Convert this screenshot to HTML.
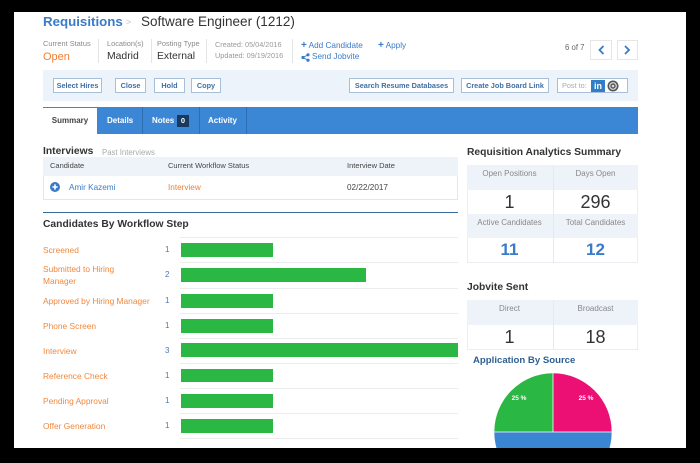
<!DOCTYPE html>
<html><head><meta charset="utf-8">
<style>
*{margin:0;padding:0;box-sizing:border-box}
html,body{width:700px;height:463px;overflow:hidden;background:#000;font-family:"Liberation Sans",sans-serif}
#pg{position:absolute;left:14px;top:12px;width:672px;height:436px;background:#fff;overflow:hidden}
.a{position:absolute}
.t{position:absolute;white-space:nowrap;height:20px;line-height:20px}
.btn{position:absolute;height:15px;border:1px solid #a9bfd8;background:#fff;color:#3f6fa6;font-size:7.3px;font-weight:bold;text-align:center;line-height:13px;white-space:nowrap}
.sep{position:absolute;width:1px;background:#e4e4e4}
.hl{position:absolute;height:1px;background:#ececec;left:180px;width:278px}
.bar{position:absolute;left:180.5px;height:13.5px;background:#2bb744}
.lbl{color:#f0883e;font-size:8.4px}
.cnt{color:#4a78b5;font-size:8px}
.th{color:#888;font-size:8px;text-align:center;width:85px}
</style></head><body>
<div id="pg"></div>
<!-- everything positioned relative to body -->
<!-- Header -->
<div class="t" style="left:43px;top:12px;font-size:13.3px;font-weight:bold;color:#3a7bc8">Requisitions</div>
<div class="t" style="left:126px;top:12px;font-size:9px;color:#c4c4c4">&gt;</div>
<div class="t" style="left:141px;top:12px;font-size:13.5px;color:#333">Software Engineer (1212)</div>

<div class="t" style="left:43px;top:34px;font-size:7.4px;color:#8a8a8a">Current Status</div>
<div class="t" style="left:43px;top:46.5px;font-size:11px;color:#f07f2d">Open</div>
<div class="sep" style="left:98px;top:39px;height:24px"></div>
<div class="t" style="left:107px;top:34px;font-size:7.4px;color:#8a8a8a">Location(s)</div>
<div class="t" style="left:107px;top:46.5px;font-size:10.4px;color:#333">Madrid</div>
<div class="sep" style="left:151px;top:39px;height:24px"></div>
<div class="t" style="left:157px;top:34px;font-size:7.4px;color:#8a8a8a">Posting Type</div>
<div class="t" style="left:157px;top:46.5px;font-size:10.4px;color:#333">External</div>
<div class="sep" style="left:206px;top:39px;height:24px"></div>
<div class="t" style="left:215px;top:35px;font-size:7.3px;color:#999">Created: 05/04/2016</div>
<div class="t" style="left:215px;top:46px;font-size:7.3px;color:#999">Updated: 09/19/2016</div>
<div class="sep" style="left:292px;top:39px;height:24px"></div>
<div class="t" style="left:301px;top:36px;font-size:8.2px;color:#3a7bc8"><b style="font-size:10px">+</b> Add Candidate</div>
<svg class="a" style="left:301px;top:53px" width="9" height="9" viewBox="0 0 9 9"><circle cx="7" cy="1.8" r="1.6" fill="#3a7bc8"/><circle cx="7" cy="7.2" r="1.6" fill="#3a7bc8"/><circle cx="2" cy="4.5" r="1.6" fill="#3a7bc8"/><path d="M7 1.8L2 4.5L7 7.2" stroke="#3a7bc8" stroke-width="0.9" fill="none"/></svg>
<div class="t" style="left:312px;top:47px;font-size:8.2px;color:#3a7bc8">Send Jobvite</div>
<div class="t" style="left:378px;top:36px;font-size:8.2px;color:#3a7bc8"><b style="font-size:10px">+</b> Apply</div>

<div class="t" style="left:565px;top:38px;font-size:7.8px;color:#666">6 of 7</div>
<div class="a" style="left:590px;top:40px;width:22px;height:20px;border:1px solid #e6e6e6"></div>
<div class="a" style="left:617px;top:40px;width:21px;height:20px;border:1px solid #e6e6e6"></div>
<svg class="a" style="left:590px;top:40px" width="48" height="20"><path d="M13.5 6L9.5 10L13.5 14" stroke="#3a7bc8" stroke-width="1.8" fill="none"/><path d="M35 6L39 10L35 14" stroke="#3a7bc8" stroke-width="1.8" fill="none"/></svg>

<!-- Toolbar -->
<div class="a" style="left:43px;top:70px;width:595px;height:31px;background:#edf3fa"></div>
<div class="btn" style="left:53px;top:78px;width:49px">Select Hires</div>
<div class="btn" style="left:115px;top:78px;width:31px">Close</div>
<div class="btn" style="left:154px;top:78px;width:31px">Hold</div>
<div class="btn" style="left:191px;top:78px;width:30px">Copy</div>
<div class="btn" style="left:349px;top:78px;width:105px">Search Resume Databases</div>
<div class="btn" style="left:461px;top:78px;width:88px">Create Job Board Link</div>
<div class="btn" style="left:557px;top:78px;width:71px;text-align:left;padding-left:4px;color:#aaa;font-weight:normal">Post to:</div>
<div class="a" style="left:591px;top:79.5px;width:14px;height:12px;background:#2f7ec6;color:#fff;font-size:9px;font-weight:bold;line-height:13px;text-align:center">in</div>
<svg class="a" style="left:607px;top:79.5px" width="12" height="12"><circle cx="6" cy="6" r="5.5" fill="#555"/><circle cx="6" cy="6" r="3.3" fill="none" stroke="#ddd" stroke-width="1.2"/><circle cx="6" cy="6" r="1.3" fill="#ddd"/></svg>

<!-- Tabs -->
<div class="a" style="left:43px;top:107px;width:595px;height:27px;background:#3b87d6"></div>
<div class="a" style="left:43px;top:107px;width:54px;height:27px;background:#fff;border-top:1px solid #3b87d6"></div>
<div class="t" style="left:43px;top:110.5px;width:54px;text-align:center;font-size:8px;font-weight:bold;color:#444">Summary</div>
<div class="t" style="left:107px;top:110.5px;font-size:8px;font-weight:bold;color:#fff">Details</div>
<div class="a" style="left:142px;top:107px;width:1px;height:27px;background:#2d6fb5"></div>
<div class="t" style="left:152px;top:110.5px;font-size:8px;font-weight:bold;color:#fff">Notes</div>
<div class="a" style="left:177px;top:114.5px;width:12px;height:12px;background:#173a5e;color:#fff;font-size:7.5px;font-weight:bold;text-align:center;line-height:12px">0</div>
<div class="a" style="left:199px;top:107px;width:1px;height:27px;background:#2d6fb5"></div>
<div class="t" style="left:208px;top:110.5px;font-size:8px;font-weight:bold;color:#fff">Activity</div>
<div class="a" style="left:246px;top:107px;width:1px;height:27px;background:#2d6fb5"></div>

<!-- Interviews -->
<div class="t" style="left:43px;top:142px;font-size:10.3px;font-weight:bold;color:#333">Interviews</div>
<div class="t" style="left:102px;top:142.5px;font-size:7.8px;color:#aaa">Past Interviews</div>
<div class="a" style="left:43px;top:157px;width:415px;height:43px;border:1px solid #e6e6e6"></div>
<div class="a" style="left:43px;top:157px;width:415px;height:19px;background:#eef3f9"></div>
<div class="t" style="left:50px;top:156px;font-size:7.5px;color:#444">Candidate</div>
<div class="t" style="left:168px;top:156px;font-size:7.5px;color:#444">Current Workflow Status</div>
<div class="t" style="left:347px;top:156px;font-size:7.5px;color:#444">Interview Date</div>
<svg class="a" style="left:50px;top:182px" width="10" height="10"><circle cx="5" cy="5" r="5" fill="#3a7bc8"/><path d="M5 2.4V7.6M2.4 5H7.6" stroke="#fff" stroke-width="1.6"/></svg>
<div class="t" style="left:69px;top:177.5px;font-size:8.2px;color:#3a7bc8">Amir Kazemi</div>
<div class="t" style="left:168px;top:177.5px;font-size:8.2px;color:#f07f2d">Interview</div>
<div class="t" style="left:347px;top:177.5px;font-size:8.2px;color:#444">02/22/2017</div>

<!-- Workflow -->
<div class="a" style="left:43px;top:211.5px;width:415px;height:1.5px;background:#3a6a9c"></div>
<div class="t" style="left:43px;top:215px;font-size:10.3px;font-weight:bold;color:#333">Candidates By Workflow Step</div>

<div class="hl" style="top:237px"></div>
<div class="hl" style="top:262px"></div>
<div class="hl" style="top:287.5px"></div>
<div class="hl" style="top:312.5px"></div>
<div class="hl" style="top:337.5px"></div>
<div class="hl" style="top:362.5px"></div>
<div class="hl" style="top:387.5px"></div>
<div class="hl" style="top:412.5px"></div>
<div class="hl" style="top:437.5px"></div>

<div class="t lbl" style="left:43px;top:240px">Screened</div>
<div class="t cnt" style="left:165px;top:240px">1</div>
<div class="bar" style="top:243px;width:92.5px"></div>

<div class="t lbl" style="left:43px;top:259px">Submitted to Hiring</div>
<div class="t lbl" style="left:43px;top:271px">Manager</div>
<div class="t cnt" style="left:165px;top:265px">2</div>
<div class="bar" style="top:268.3px;width:185px"></div>

<div class="t lbl" style="left:43px;top:290.5px">Approved by Hiring Manager</div>
<div class="t cnt" style="left:165px;top:290.5px">1</div>
<div class="bar" style="top:294px;width:92.5px"></div>

<div class="t lbl" style="left:43px;top:315.7px">Phone Screen</div>
<div class="t cnt" style="left:165px;top:315.7px">1</div>
<div class="bar" style="top:319px;width:92.5px"></div>

<div class="t lbl" style="left:43px;top:340.5px">Interview</div>
<div class="t cnt" style="left:165px;top:340.5px">3</div>
<div class="bar" style="top:343.3px;width:277.5px"></div>

<div class="t lbl" style="left:43px;top:365.5px">Reference Check</div>
<div class="t cnt" style="left:165px;top:365.5px">1</div>
<div class="bar" style="top:368.7px;width:92.5px"></div>

<div class="t lbl" style="left:43px;top:390.7px">Pending Approval</div>
<div class="t cnt" style="left:165px;top:390.7px">1</div>
<div class="bar" style="top:394px;width:92.5px"></div>

<div class="t lbl" style="left:43px;top:415.7px">Offer Generation</div>
<div class="t cnt" style="left:165px;top:415.7px">1</div>
<div class="bar" style="top:419px;width:92.5px"></div>

<!-- Right: Analytics -->
<div class="t" style="left:467px;top:143px;font-size:10.3px;font-weight:bold;color:#333">Requisition Analytics Summary</div>
<div class="a" style="left:467px;top:165px;width:171px;height:98px;border:1px solid #eaeef2"></div>
<div class="a" style="left:467px;top:165px;width:171px;height:25px;background:#eef3f9"></div>
<div class="a" style="left:467px;top:214px;width:171px;height:24px;background:#eef3f9"></div>
<div class="a" style="left:552.5px;top:165px;width:1px;height:98px;background:#e4eaf1"></div>
<div class="t th" style="left:467px;top:164px">Open Positions</div>
<div class="t th" style="left:553px;top:164px">Days Open</div>
<div class="t" style="left:467px;top:192px;width:85px;text-align:center;font-size:18px;color:#333">1</div>
<div class="t" style="left:553px;top:192px;width:85px;text-align:center;font-size:18px;color:#333">296</div>
<div class="t th" style="left:467px;top:212.5px">Active Candidates</div>
<div class="t th" style="left:553px;top:212.5px">Total Candidates</div>
<div class="t" style="left:467px;top:240px;width:85px;text-align:center;font-size:17px;font-weight:bold;color:#3a7bc8">11</div>
<div class="t" style="left:553px;top:240px;width:85px;text-align:center;font-size:17px;font-weight:bold;color:#3a7bc8">12</div>

<!-- Jobvite Sent -->
<div class="t" style="left:467px;top:278px;font-size:10.3px;font-weight:bold;color:#333">Jobvite Sent</div>
<div class="a" style="left:467px;top:300px;width:171px;height:50px;border:1px solid #eaeef2"></div>
<div class="a" style="left:467px;top:300px;width:171px;height:25px;background:#eef3f9"></div>
<div class="a" style="left:552.5px;top:300px;width:1px;height:50px;background:#e4eaf1"></div>
<div class="t th" style="left:467px;top:299px">Direct</div>
<div class="t th" style="left:553px;top:299px">Broadcast</div>
<div class="t" style="left:467px;top:327px;width:85px;text-align:center;font-size:18px;color:#333">1</div>
<div class="t" style="left:553px;top:327px;width:85px;text-align:center;font-size:18px;color:#333">18</div>

<!-- Application By Source -->
<div class="t" style="left:473px;top:351px;font-size:9.6px;font-weight:bold;color:#2d5f92">Application By Source</div>
<svg class="a" style="left:480px;top:360px" width="150" height="88" viewBox="480 360 150 88">
  <path d="M553 432 L494.3 432 A58.7 58.7 0 0 1 553 373.3 Z" fill="#2bb744"/>
  <path d="M553 432 L553 373.3 A58.7 58.7 0 0 1 611.7 432 Z" fill="#ec0f74"/>
  <path d="M553 432 L611.7 432 A58.7 58.7 0 0 1 494.3 432 Z" fill="#3a86d2"/>
  <path d="M494 432H612M553 432V373" stroke="#fff" stroke-width="0.8"/>
  <text x="519" y="400" font-family="Liberation Sans, sans-serif" font-size="6.5" font-weight="bold" fill="#fff" text-anchor="middle">25 %</text>
  <text x="586" y="400" font-family="Liberation Sans, sans-serif" font-size="6.5" font-weight="bold" fill="#fff" text-anchor="middle">25 %</text>
</svg>
<!-- bottom black frame overlay -->
<div class="a" style="left:0;top:448px;width:700px;height:15px;background:#000"></div>
</body></html>
